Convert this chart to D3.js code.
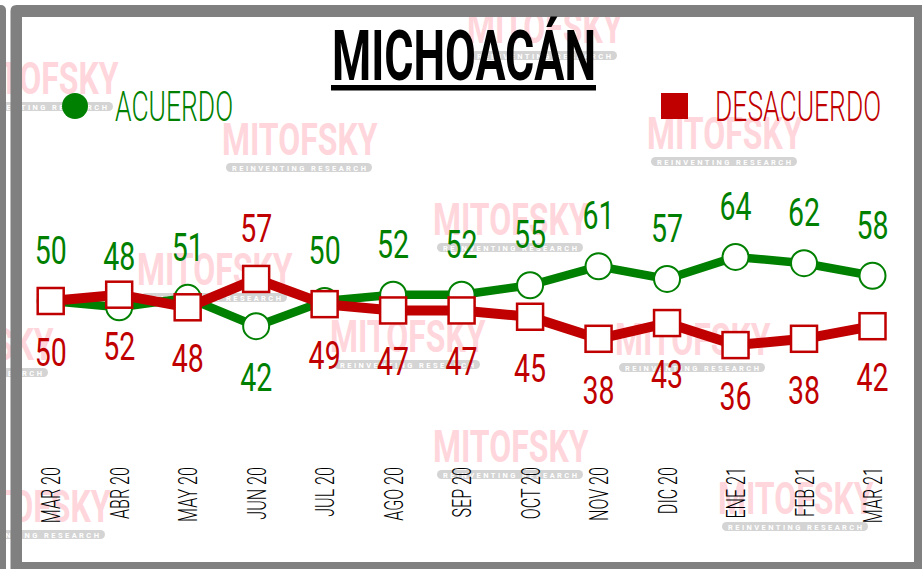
<!DOCTYPE html>
<html>
<head>
<meta charset="utf-8">
<script src="https://cdn.jsdelivr.net/npm/d3@7"></script>
<style>
  html, body { margin: 0; padding: 0; background: #ffffff; }
  svg { display: block; }
</style>
</head>
<body>
<svg id="chart" width="922" height="569"></svg>
<script>
// Monthly survey: approval (acuerdo) vs disapproval (desacuerdo)
const months = ["MAR 20", "ABR 20", "MAY 20", "JUN 20", "JUL 20", "AGO 20", "SEP 20",
                "OCT 20", "NOV 20", "DIC 20", "ENE 21", "FEB 21", "MAR 21"];
const acuerdo    = [50, 48, 51, 42, 50, 52, 52, 55, 61, 57, 64, 62, 58];
const desacuerdo = [50, 52, 48, 57, 49, 47, 47, 45, 38, 43, 36, 38, 42];
const seriesNames = ["ACUERDO", "DESACUERDO"];
const title = "MICHOACÁN";

const GREEN = "#008000";
const RED = "#c00000";
const FRAME = "#808080";
const PINK = "#ffd6dc";

const W = 922, H = 569;
const svg = d3.select("#chart");

const x = d3.scalePoint().domain(months).range([50.7, 872.5]);
const y = d3.scaleLinear().domain([0, 100]).range([458.5, 143.5]);

// Horizontally condensed text helper
function ctext(parent, str, px, py, opts) {
  const g = parent.append("g")
    .attr("transform", `translate(${px},${py}) ${opts.rotate ? "rotate(" + opts.rotate + ")" : ""} scale(${opts.sx},1)`);
  const t = g.append("text")
    .attr("x", 0).attr("y", 0)
    .attr("font-family", opts.family || "Roboto")
    .attr("font-size", opts.size)
    .attr("font-weight", opts.weight || 400)
    .attr("fill", opts.fill || "#000")
    .attr("text-anchor", opts.anchor || "start")
    .text(str);
  return { g, t };
}

// Background
svg.append("rect").attr("width", W).attr("height", H).attr("fill", "#ffffff");

// Watermarks (brand text with tagline pill)
const marks = [
  [433, 203], [433, 430], [330, 320], [137, 253], [-102, 328], [-37, 62],
  [222, 123], [467, 11], [647, 117], [615, 323], [718, 482], [-45, 490]
];
const wm = svg.append("g");
marks.forEach(([mx, my]) => {
  ctext(wm, "MITOFSKY", mx, my + 32, { sx: 0.71, size: 45, weight: 700, fill: PINK });
  wm.append("rect")
    .attr("x", mx + 4).attr("y", my + 40)
    .attr("width", 146).attr("height", 9).attr("rx", 4.5)
    .attr("fill", "#d4d4d4");
  wm.append("text")
    .attr("x", mx + 10).attr("y", my + 47.5)
    .attr("font-family", "Roboto").attr("font-weight", 700)
    .attr("font-size", 7.5)
    .attr("textLength", 134).attr("lengthAdjust", "spacing")
    .attr("fill", "#ffffff")
    .text("REINVENTING RESEARCH");
});

// Frame
svg.append("path")
  .attr("fill", FRAME)
  .attr("fill-rule", "evenodd")
  .attr("d", "M16.5,5 H940 V590 H10.5 V11 Q10.5,5 16.5,5 Z M22,17 V562 H914 V17 Z");
svg.append("rect")
  .attr("x", -10).attr("y", 5).attr("width", 16).attr("height", 600).attr("rx", 5)
  .attr("fill", FRAME);

// Title
const tt = ctext(svg, title, 464, 80, { sx: 1, size: 70, weight: 700, anchor: "middle" });
const tLen = tt.t.node().getComputedTextLength();
const tScale = 264 / tLen;
tt.g.attr("transform", `translate(464,80) scale(${tScale},1)`);
svg.append("rect")
  .attr("x", 331).attr("y", 85).attr("width", 265).attr("height", 5.5)
  .attr("fill", "#000");

// Legend
svg.append("circle").attr("cx", 75).attr("cy", 106).attr("r", 13).attr("fill", GREEN);
ctext(svg, seriesNames[0], 115, 120.7, { sx: 0.63, size: 42, weight: 300, fill: GREEN });
svg.append("rect").attr("x", 661).attr("y", 93).attr("width", 27).attr("height", 26).attr("fill", RED);
ctext(svg, seriesNames[1], 715, 120.7, { sx: 0.63, size: 42, weight: 300, fill: RED });

// X axis labels (rotated)
const axisG = svg.append("g");
months.forEach(m => {
  ctext(axisG, m, x(m) + 9.5, 467, { rotate: -90, sx: 0.62, size: 26, weight: 300, anchor: "end" });
});

// Lines
const line = d3.line().x((d, i) => x(months[i])).y(d => y(d));
svg.append("path").datum(acuerdo)
  .attr("d", line).attr("fill", "none").attr("stroke", GREEN)
  .attr("stroke-width", 8.5).attr("stroke-linejoin", "round");
svg.append("path").datum(desacuerdo)
  .attr("d", line).attr("fill", "none").attr("stroke", RED)
  .attr("stroke-width", 10).attr("stroke-linejoin", "round");

// Markers
svg.append("g").selectAll("circle").data(acuerdo).join("circle")
  .attr("cx", (d, i) => x(months[i])).attr("cy", d => y(d))
  .attr("r", 13).attr("fill", "#fff").attr("stroke", GREEN).attr("stroke-width", 2);
const S = 26;
svg.append("g").selectAll("rect").data(desacuerdo).join("rect")
  .attr("x", (d, i) => x(months[i]) - S / 2).attr("y", d => y(d) - S / 2)
  .attr("width", S).attr("height", S)
  .attr("fill", "#fff").attr("stroke", RED).attr("stroke-width", 2.5);

// Value labels: green above / red below, swapped where the gap is wide
const labels = svg.append("g");
months.forEach((m, i) => {
  const a = acuerdo[i], d = desacuerdo[i];
  const flip = (d - a) > 8;
  const ya = y(a), yd = y(d);
  const aBase = flip ? ya + 65 : ya - 37;
  const dBase = flip ? yd - 37 : yd + 65;
  ctext(labels, String(a), x(m), aBase, { sx: 0.75, size: 38, weight: 400, fill: GREEN, anchor: "middle" });
  ctext(labels, String(d), x(m), dBase, { sx: 0.75, size: 38, weight: 400, fill: RED, anchor: "middle" });
});
</script>
</body>
</html>
